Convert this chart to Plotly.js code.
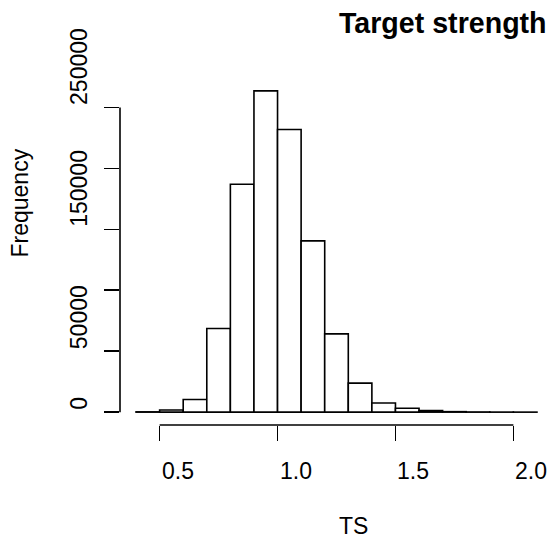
<!DOCTYPE html>
<html>
<head>
<meta charset="utf-8">
<script src="https://cdn.plot.ly/plotly-3.0.1.min.js"></script>
<style>html,body{margin:0;padding:0;background:#fff;}#chart{width:553px;height:544px;}</style>
</head>
<body>
<div id="chart"></div>
<script>
// Histogram of TS: bin starts (width 0.1) and counts
const binStart = [0.4, 0.5, 0.6, 0.7, 0.8, 0.9, 1.0, 1.1, 1.2, 1.3, 1.4, 1.5, 1.6, 1.7, 1.8, 1.9, 2.0];
const counts   = [250, 1800, 10400, 68600, 187000, 263600, 231900, 140500, 64200, 23800, 7500, 3200, 1300, 400, 150, 60, 30];
const binWidth = 0.1;

const xTickVals = [0.5, 1.0, 1.5, 2.0];
const xTickText = ["0.5", "1.0", "1.5", "2.0"];
const yTickVals = [0, 50000, 100000, 150000, 200000, 250000];
const yTickText = ["0", "50000", "", "150000", "", "250000"];

const titleText = "Target strength";
const xTitle = "TS";
const yTitle = "Frequency";

const FONT = "Liberation Sans, Arial, Helvetica, sans-serif";
const FS = 23;

const trace = {
  type: "bar",
  x: binStart,
  y: counts,
  width: binWidth,
  offset: 0,
  marker: { color: "#ffffff", line: { color: "#000000", width: 1.6 } },
  hoverinfo: "x+y"
};

const annotations = [];
xTickVals.forEach((v, i) => {
  annotations.push({
    text: xTickText[i], x: v, xref: "x", xanchor: "left",
    y: 0, yref: "paper", yanchor: "middle", yshift: -46,
    showarrow: false, font: { family: FONT, size: FS, color: "#000" }
  });
});
yTickVals.forEach((v, i) => {
  if (!yTickText[i]) return;
  annotations.push({
    text: yTickText[i], x: 0, xref: "paper", xanchor: "center", xshift: -41,
    y: v, yref: "y", yanchor: "bottom", textangle: -90,
    showarrow: false, font: { family: FONT, size: FS, color: "#000" }
  });
});
annotations.push({
  text: "<b>" + titleText + "</b>", x: 0.5, xref: "paper", xanchor: "left",
  y: 1, yref: "paper", yanchor: "middle", yshift: 55,
  showarrow: false, font: { family: FONT, size: 28.6, color: "#000" }
});
annotations.push({
  text: xTitle, x: 0.5, xref: "paper", xanchor: "left",
  y: 0, yref: "paper", yanchor: "middle", yshift: -101,
  showarrow: false, font: { family: FONT, size: FS, color: "#000" }
});
annotations.push({
  text: yTitle, x: 0, xref: "paper", xanchor: "center", xshift: -100,
  y: 0.4755, yref: "paper", yanchor: "bottom", textangle: -90,
  showarrow: false, font: { family: FONT, size: FS, color: "#000" }
});

const shapes = [
  { type: "line", xref: "x", yref: "paper",
    x0: xTickVals[0], x1: xTickVals[xTickVals.length - 1], y0: 0, y1: 0,
    line: { color: "#000", width: 1.6 } },
  { type: "line", xref: "paper", yref: "y",
    x0: 0, x1: 0, y0: yTickVals[0], y1: yTickVals[yTickVals.length - 1],
    line: { color: "#000", width: 1.6 } }
];

const layout = {
  width: 553, height: 544, autosize: false,
  margin: { l: 120, r: 0, t: 78, b: 119, pad: 0 },
  paper_bgcolor: "#ffffff", plot_bgcolor: "#ffffff",
  showlegend: false,
  bargap: 0,
  xaxis: {
    range: [0.332, 2.168], tickmode: "array", tickvals: xTickVals,
    showticklabels: false, ticks: "outside", ticklen: 15, tickwidth: 1.6, tickcolor: "#000",
    showgrid: false, zeroline: false, showline: false, fixedrange: true
  },
  yaxis: {
    range: [-10544, 274144], tickmode: "array", tickvals: yTickVals,
    showticklabels: false, ticks: "outside", ticklen: 15, tickwidth: 1.6, tickcolor: "#000",
    showgrid: false, zeroline: false, showline: false, fixedrange: true
  },
  annotations: annotations,
  shapes: shapes
};

Plotly.newPlot("chart", [trace], layout, { displayModeBar: false, staticPlot: true });
</script>
</body>
</html>
